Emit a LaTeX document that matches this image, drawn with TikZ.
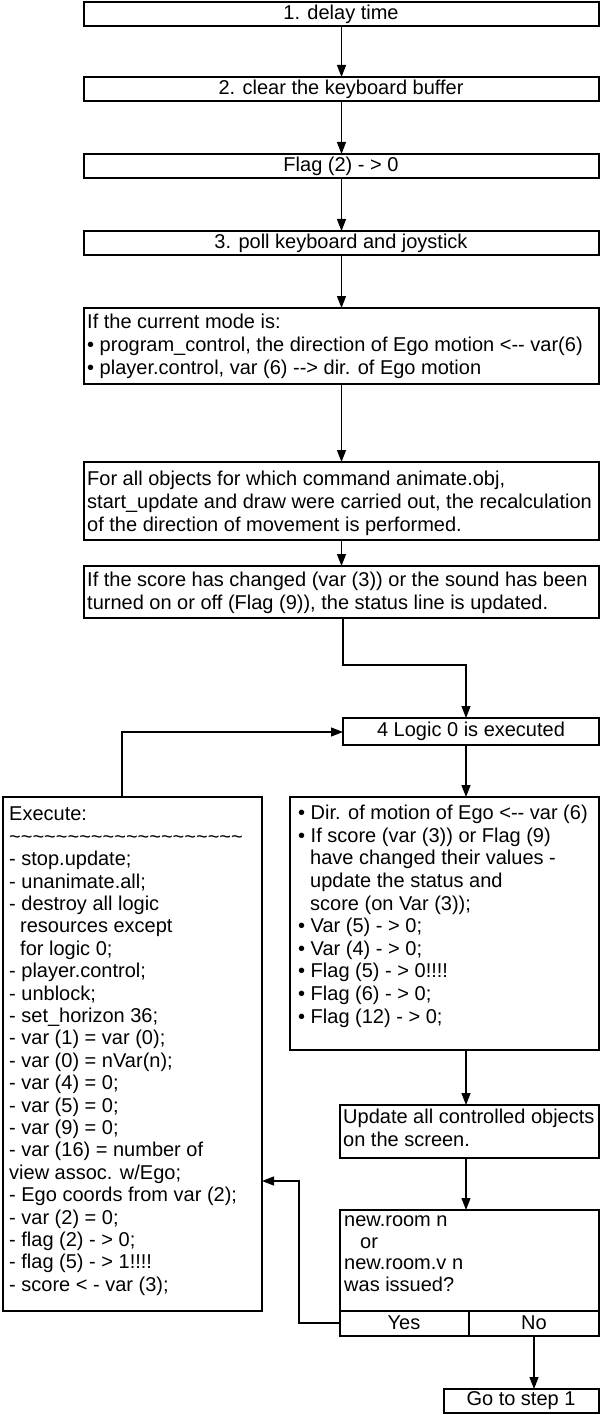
\documentclass[tikz,border=0pt]{standalone}
\usepackage{fontspec}
\setmainfont{Liberation Sans}
\usetikzlibrary{arrows.meta}
\begin{document}
\begin{tikzpicture}[x=1pt,y=-1pt,
 arr/.style={line width=1.2pt,-{Triangle[length=12pt,width=9pt]}},
 lbl/.style={align=left,anchor=north west,inner sep=0pt}]
\useasboundingbox (0,0) rectangle (600,1415);
\tikzset{every node/.style={font=\fontsize{20}{22.8}\selectfont}}
\newcommand\bx[5]{\draw[line width=1.2pt] (#2,#3) rectangle (#4,#5); \coordinate (#1n) at ({(#2+#4)/2},#3); \coordinate (#1s) at ({(#2+#4)/2},#5);}
% simple boxes
\bx{a}{84}{2}{599}{26} \node (ta) at (341,14) {1. delay time};
\bx{b}{84}{77}{599}{101} \node (tb) at (341,89) {2. clear the keyboard buffer};
\bx{c}{84}{154}{599}{178} \node (tc) at (341,166) {Flag (2) - > 0};
\bx{d}{84}{231}{599}{255} \node (td) at (341,243) {3. poll keyboard and joystick};
\bx{e}{84}{308}{599}{384}
\node[lbl] (te) at (87,314) {If the current mode is:\\• program\_control, the direction of Ego motion <{-}{-} var(6)\\• player.control, var (6) {-}{-}> dir. of Ego motion};
\bx{f}{84}{462}{599}{540}
\node[lbl] (tf) at (87,471) {For all objects for which command animate.obj,\\start\_update and draw were carried out, the recalculation\\of the direction of movement is performed.};
\bx{g}{84}{566}{599}{618}
\node[lbl] (tg) at (87,572) {If the score has changed (var (3)) or the sound has been\\turned on or off (Flag (9)), the status line is updated.};
\draw[line width=1.2pt] (343,718) rectangle (599,745);
\node (th) at (471,731.5) {4 Logic 0 is executed};
\coordinate (hn) at (466,718); \coordinate (hs) at (466,745); \coordinate (hw) at (343,732);
% left box
\draw[line width=1.2pt] (3,797) rectangle (262,1311);
\coordinate (ln) at (122,797); \coordinate (le) at (262,1181);
\node[lbl,font=\fontsize{20}{22.4}\selectfont] (tl) at (9,807) {Execute:\\\textasciitilde\textasciitilde\textasciitilde\textasciitilde\textasciitilde\textasciitilde\textasciitilde\textasciitilde\textasciitilde\textasciitilde\textasciitilde\textasciitilde\textasciitilde\textasciitilde\textasciitilde\textasciitilde\textasciitilde\textasciitilde\textasciitilde\textasciitilde\\- stop.update;\\- unanimate.all;\\- destroy all logic\\\hspace*{0.55em}resources except\\\hspace*{0.55em}for logic 0;\\- player.control;\\- unblock;\\- set\_horizon 36;\\- var (1) = var (0);\\- var (0) = nVar(n);\\- var (4) = 0;\\- var (5) = 0;\\- var (9) = 0;\\- var (16) = number of\\view assoc. w/Ego;\\- Ego coords from var (2);\\- var (2) = 0;\\- flag (2) - > 0;\\- flag (5) - > 1!!!!\\- score < - var (3);};
% right box
\draw[line width=1.2pt] (290,797) rectangle (599,1050);
\coordinate (rn) at (466,797); \coordinate (rs) at (466,1050);
\node[lbl,font=\fontsize{20}{22.6}\selectfont] (tr) at (298,805) {• Dir. of motion of Ego <{-}{-} var (6)\\• If score (var (3)) or Flag (9)\\\hspace*{0.6em}have changed their values -\\\hspace*{0.6em}update the status and\\\hspace*{0.6em}score (on Var (3));\\• Var (5) - > 0;\\• Var (4) - > 0;\\• Flag (5) - > 0!!!!\\• Flag (6) - > 0;\\• Flag (12) - > 0;};
\bx{u}{340}{1105}{599}{1158}
\node[lbl] (tu) at (343,1109) {Update all controlled objects\\on the screen.};
% decision
\draw[line width=1.2pt] (340,1210) rectangle (599,1336);
\draw[line width=1.2pt] (340,1311) -- (599,1311) (469,1311) -- (469,1336);
\coordinate (vn) at (466,1210); \coordinate (yw) at (340,1323); \coordinate (ns) at (534,1336);
\node[lbl,font=\fontsize{20}{21.5}\selectfont] (tv) at (344,1216) {new.room n\\\hspace*{0.8em}or\\new.room.v n\\was issued?};
\node (yes) at (404,1323) {Yes};
\node (no) at (534,1323) {No};
\draw[line width=1.2pt] (444,1389) rectangle (599,1413);
\coordinate (wn) at (534,1389);
\node (tw) at (521,1401) {Go to step 1};
% arrows
\draw[arr] (as) -- (bn);
\draw[arr] (bs) -- (cn);
\draw[arr] (cs) -- (dn);
\draw[arr] (ds) -- (en);
\draw[arr] (es) -- (fn);
\draw[arr] (fs) -- (gn);
\draw[arr] (343,618) |- (466,665) -- (hn);
\draw[arr] (ln) |- (hw);
\draw[arr] (hs) -- (rn);
\draw[arr] (rs) -- (466,1105);
\draw[arr] (466,1158) -- (vn);
\draw[arr] (yw) -| (299,1181) -- (le);
\draw[arr] (ns) -- (wn);
\end{tikzpicture}
\end{document}
